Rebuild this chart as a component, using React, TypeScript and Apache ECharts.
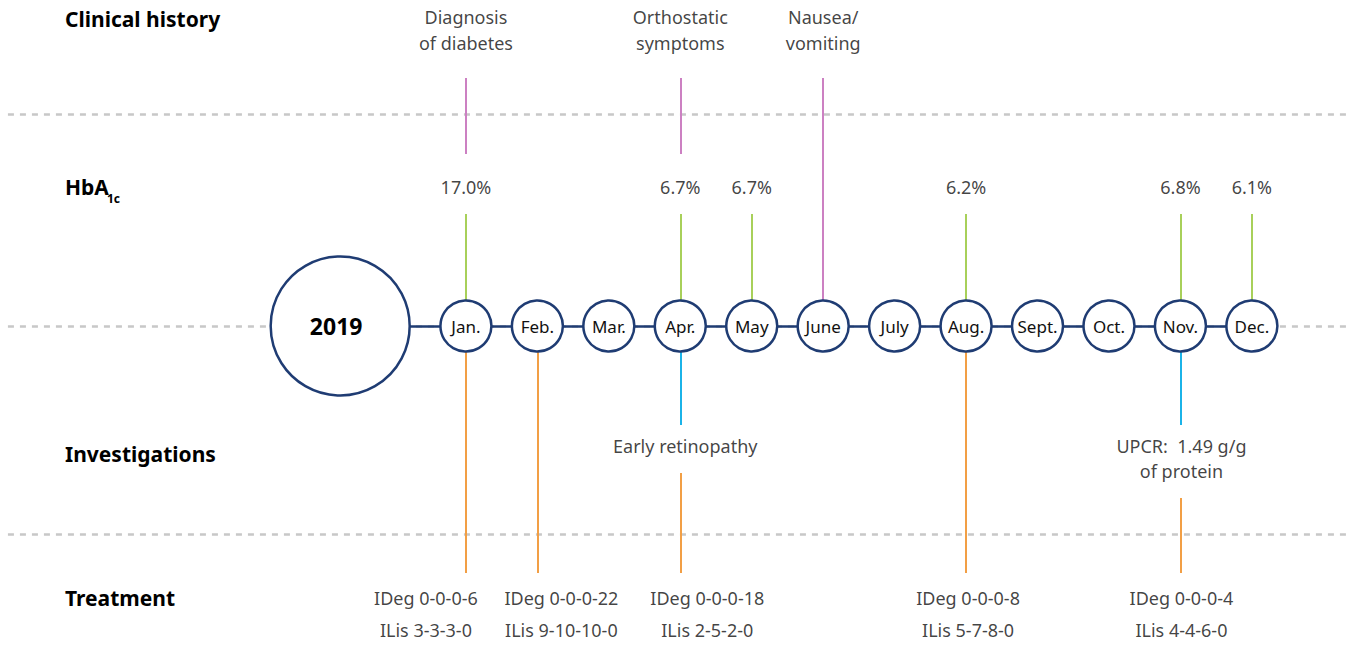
import React, { useEffect, useRef } from "react";
import * as echarts from "echarts";

// ---------- data ----------
const months = ["Jan.", "Feb.", "Mar.", "Apr.", "May", "June", "July", "Aug.", "Sept.", "Oct.", "Nov.", "Dec."];
const yearLabel = "2019";
const rowLabels = ["Clinical history", "HbA", "Investigations", "Treatment"];
const hbaSubscript = "1c";

const historyMonths = ["Jan.", "Apr.", "June"];
const historyEvents = ["Diagnosis\nof diabetes", "Orthostatic\nsymptoms", "Nausea/\nvomiting"];

const hba1cMonths = ["Jan.", "Apr.", "May", "Aug.", "Nov.", "Dec."];
const hba1cValues = [17.0, 6.7, 6.7, 6.2, 6.8, 6.1];

const investigationMonths = ["Apr.", "Nov."];
const investigationResults = ["Early retinopathy", "UPCR:  1.49 g/g\nof protein"];

const treatmentMonths = ["Jan.", "Feb.", "Apr.", "Aug.", "Nov."];
const idegDoses = ["0-0-0-6", "0-0-0-22", "0-0-0-18", "0-0-0-8", "0-0-0-4"];
const ilisDoses = ["3-3-3-0", "9-10-10-0", "2-5-2-0", "5-7-8-0", "4-4-6-0"];

// ---------- layout (not data) ----------
const X_MIN = -5.521;
const X_MAX = 13.541;
const YEAR_POS = -0.76;
const DASH_LEFT = -5.41;
const DASH_RIGHT = 13.4;
const Y_SEPARATORS = [114, 326, 534];
const Y_TIME = 326;
const Y_HISTORY_TOP = 4;
const Y_HISTORY_LINE_TOP = 78;
const Y_HISTORY_LINE_BOTTOM = 154;
const Y_HBA = 187;
const Y_HBA_LINE_TOP = 214;
const Y_INVEST_TOP = 433.5;
const Y_INVEST_LINE_BOTTOM = 425;
const Y_TREAT_TOP = 582;
const Y_TREAT_LINE_BOTTOM = 573;
const treatLineTopAfterInvest = [473, 498];
const investShift = [5, 1];
const treatShift = [-40, 24, 27, 2, 1];
const ROW_LABEL_X = 65;
const rowLabelY = [19, 187, 454, 598];

const NAVY = "#1f3c73";
const PINK = "#cc80c2";
const GREEN = "#a8d05a";
const ORANGE = "#f29f45";
const BLUE = "#1bb3e8";
const GRAY = "#c8c8c8";
const TEXT = "#111111";
const FONT = "'Noto Sans', sans-serif";

const mx = (m: string) => months.indexOf(m) + 1;

export default function App() {
  const ref = useRef<HTMLDivElement>(null);
  useEffect(() => {
    if (!ref.current) return;
    const chart = echarts.init(ref.current, undefined, { renderer: "svg" });

    const seg = (x: number, y1: number, y2: number, color: string) => ({
      coords: [[x, y1], [x, y2]],
      lineStyle: { color },
    });

    const verticals: any[] = [];
    historyMonths.forEach((m) => {
      const bottom = months.indexOf(m) === 5 ? Y_TIME : Y_HISTORY_LINE_BOTTOM;
      verticals.push(seg(mx(m), Y_HISTORY_LINE_TOP, bottom, PINK));
    });
    hba1cMonths.forEach((m) => verticals.push(seg(mx(m), Y_HBA_LINE_TOP, Y_TIME, GREEN)));
    investigationMonths.forEach((m) => verticals.push(seg(mx(m), Y_TIME, Y_INVEST_LINE_BOTTOM, BLUE)));
    treatmentMonths.forEach((m) => {
      const k = investigationMonths.indexOf(m);
      const top = k >= 0 ? treatLineTopAfterInvest[k] : Y_TIME;
      verticals.push(seg(mx(m), top, Y_TREAT_LINE_BOTTOM, ORANGE));
    });

    const textSeries = (data: any[], fontSize: number, lineHeight: number, position: any, z = 10) => ({
      type: "scatter",
      symbolSize: 0,
      silent: true,
      z,
      itemStyle: { color: "transparent" },
      label: {
        show: true,
        position,
        distance: 0,
        formatter: (p: any) => p.name,
        color: TEXT,
        fontSize,
        lineHeight,
        fontFamily: FONT,
        align: "center",
      },
      data,
    });

    const option: any = {
      animation: false,
      backgroundColor: "#ffffff",
      grid: { left: 0, right: 0, top: 0, bottom: 0 },
      xAxis: { type: "value", min: X_MIN, max: X_MAX, show: false },
      yAxis: { type: "value", min: 0, max: 646, inverse: true, show: false },
      graphic: [
        ...rowLabels.map((t, i) => ({
          type: "text",
          x: ROW_LABEL_X,
          y: rowLabelY[i],
          z: 100,
          style: {
            text: t,
            fill: "#000000",
            font: `bold 21px ${FONT}`,
            verticalAlign: "middle",
            align: "left",
          },
        })),
        {
          type: "text",
          x: 107,
          y: 198,
          z: 100,
          style: {
            text: hbaSubscript,
            fill: "#000000",
            font: `bold 12px ${FONT}`,
            verticalAlign: "middle",
            align: "left",
          },
        },
      ],
      series: [
        {
          type: "lines",
          coordinateSystem: "cartesian2d",
          z: 1,
          silent: true,
          lineStyle: { color: GRAY, width: 2.5, type: [6, 6], opacity: 1 },
          data: Y_SEPARATORS.map((y) => ({ coords: [[DASH_LEFT, y], [DASH_RIGHT, y]] })),
        },
        {
          type: "lines",
          coordinateSystem: "cartesian2d",
          z: 2,
          silent: true,
          lineStyle: { width: 2, opacity: 1 },
          data: verticals,
        },
        {
          type: "lines",
          coordinateSystem: "cartesian2d",
          z: 3,
          silent: true,
          lineStyle: { color: NAVY, width: 2.5, opacity: 1 },
          data: [{ coords: [[YEAR_POS, Y_TIME], [months.length, Y_TIME]] }],
        },
        {
          type: "scatter",
          z: 4,
          silent: true,
          symbol: "circle",
          symbolSize: 139,
          itemStyle: { color: "#ffffff", borderColor: NAVY, borderWidth: 2.5, opacity: 1 },
          label: {
            show: true,
            position: "inside",
            formatter: (p: any) => p.name,
            color: "#000000",
            fontSize: 23,
            fontWeight: "bold",
            fontFamily: FONT,
            offset: [-4, 0],
          },
          data: [{ name: yearLabel, value: [YEAR_POS, Y_TIME] }],
        },
        {
          type: "scatter",
          z: 4,
          silent: true,
          symbol: "circle",
          symbolSize: 51,
          itemStyle: { color: "#ffffff", borderColor: NAVY, borderWidth: 2.5, opacity: 1 },
          label: {
            show: true,
            position: "inside",
            formatter: (p: any) => p.name,
            color: TEXT,
            fontSize: 17,
            fontFamily: FONT,
          },
          data: months.map((m, i) => ({ name: m, value: [i + 1, Y_TIME] })),
        },
        textSeries(
          historyMonths.map((m, i) => ({ name: historyEvents[i], value: [mx(m), Y_HISTORY_TOP] })),
          18,
          26,
          "bottom"
        ),
        textSeries(
          hba1cMonths.map((m, i) => ({ name: hba1cValues[i].toFixed(1) + "%", value: [mx(m), Y_HBA] })),
          18,
          22,
          "inside"
        ),
        textSeries(
          investigationMonths.map((m, i) => ({
            name: investigationResults[i],
            value: [mx(m), Y_INVEST_TOP],
            label: { offset: [investShift[i], 0] },
          })),
          18,
          25,
          "bottom"
        ),
        textSeries(
          treatmentMonths.map((m, i) => ({
            name: `IDeg ${idegDoses[i]}\nILis ${ilisDoses[i]}`,
            value: [mx(m), Y_TREAT_TOP],
            label: { offset: [treatShift[i], 0] },
          })),
          18,
          32,
          "bottom"
        ),
      ],
    };
    chart.setOption(option);
    return () => chart.dispose();
  }, []);
  return (
    <div
      ref={ref}
      style={{ position: "fixed", left: 0, top: 0, width: 1362, height: 646, background: "#fff" }}
    />
  );
}
